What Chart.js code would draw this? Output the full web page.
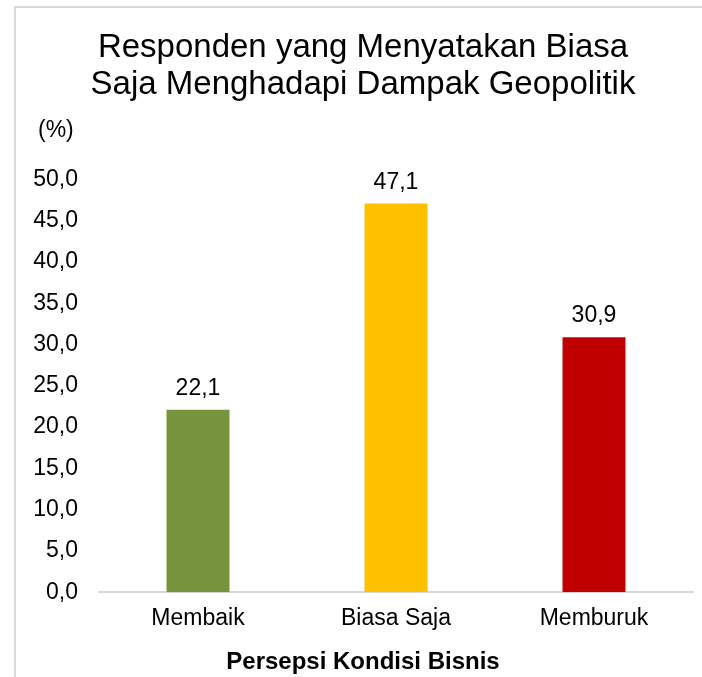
<!DOCTYPE html>
<html>
<head>
<meta charset="utf-8">
<script src="https://cdn.jsdelivr.net/npm/chart.js@4"></script>
<style>
  html, body { margin: 0; padding: 0; background: #fff; overflow: hidden; }
  .frame {
    position: absolute;
    left: 14px;
    top: 6px;
    width: 720px;
    height: 700px;
    border: 2px solid #d9d9d9;
    background: #fff;
  }
  canvas { display: block; }
</style>
</head>
<body>
<div class="frame">
  <canvas id="chart" width="710" height="669"></canvas>
</div>
<script>
const categories = ["Membaik", "Biasa Saja", "Memburuk"];
const values = [22.1, 47.1, 30.9];
const barColors = ["#77933C", "#FFC000", "#C00000"];
const titleLines = ["Responden yang Menyatakan Biasa", "Saja Menghadapi Dampak Geopolitik"];
const axisTitle = "Persepsi Kondisi Bisnis";
const unitLabel = "(%)";

const FONT = "'Liberation Sans', Arial, sans-serif";

function formatComma(value) {
  return Number(value).toFixed(1).replace(".", ",");
}

// value labels above the bars
const valueLabels = {
  id: "valueLabels",
  afterDatasetsDraw(chart) {
    const ctx = chart.ctx;
    const meta = chart.getDatasetMeta(0);
    ctx.save();
    ctx.font = `23px ${FONT}`;
    ctx.fillStyle = "#000";
    ctx.textAlign = "center";
    ctx.textBaseline = "alphabetic";
    meta.data.forEach((bar, i) => {
      ctx.fillText(formatComma(values[i]), bar.x, bar.y - 15);
    });
    ctx.restore();
  },
};

// "(%)" unit text above the y axis
const unitText = {
  id: "unitText",
  afterDraw(chart) {
    const ctx = chart.ctx;
    const yScale = chart.scales.y;
    ctx.save();
    ctx.font = `23px ${FONT}`;
    ctx.fillStyle = "#000";
    ctx.textAlign = "left";
    ctx.textBaseline = "middle";
    ctx.fillText(unitLabel, yScale.left + 5, chart.chartArea.top - 49);
    ctx.restore();
  },
};

new Chart(document.getElementById("chart"), {
  type: "bar",
  data: {
    labels: categories,
    datasets: [
      {
        data: values,
        backgroundColor: barColors,
        borderWidth: 0,
        barPercentage: 0.318,
        categoryPercentage: 1,
      },
    ],
  },
  options: {
    responsive: false,
    animation: false,
    layout: { padding: { left: 17, right: 33, top: 0, bottom: 0 } },
    plugins: {
      legend: { display: false },
      tooltip: { enabled: false },
      title: {
        display: true,
        text: titleLines,
        color: "#000",
        font: { family: FONT, size: 33, weight: "normal", lineHeight: 1.13 },
        padding: { top: 21, bottom: 76 },
      },
      subtitle: {
        display: true,
        position: "bottom",
        text: axisTitle,
        color: "#000",
        font: { family: FONT, size: 24, weight: "bold", lineHeight: 1.2 },
        padding: { top: 13, bottom: 0 },
      },
    },
    scales: {
      x: {
        grid: { display: false, drawTicks: false },
        border: { display: true, color: "#d9d9d9", width: 2 },
        ticks: {
          color: "#000",
          padding: 13,
          font: { family: FONT, size: 23 },
        },
        afterFit: (scale) => {
          scale.height = 43;
        },
      },
      y: {
        min: 0,
        max: 50,
        grid: { display: false, drawTicks: false },
        border: { display: false },
        ticks: {
          stepSize: 5,
          color: "#000",
          padding: 21,
          font: { family: FONT, size: 23 },
          callback: (value) => formatComma(value),
        },
        afterFit: (scale) => {
          scale.width = 66;
        },
      },
    },
  },
  plugins: [valueLabels, unitText],
});
</script>
</body>
</html>
